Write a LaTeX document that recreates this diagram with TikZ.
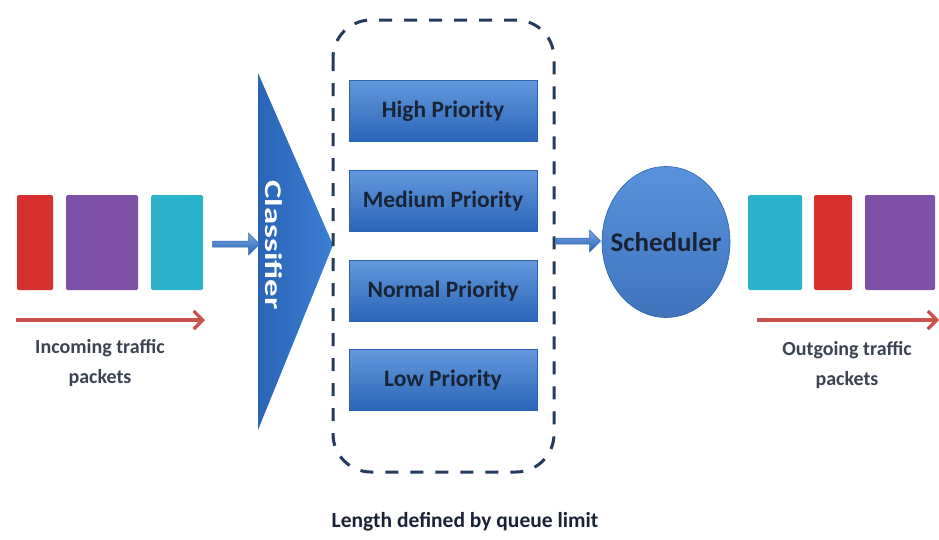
\documentclass[tikz,border=0pt]{standalone}
\usepackage{fontspec}
\setmainfont{Carlito}
\usetikzlibrary{shapes.arrows,shapes.geometric,arrows.meta}
\definecolor{qblue}{HTML}{3C7FD6}
\definecolor{qbluedark}{HTML}{2A64B5}
\definecolor{qtext}{HTML}{1A2235}
\definecolor{pred}{HTML}{D8302E}
\definecolor{ppurple}{HTML}{7E50A8}
\definecolor{pcyan}{HTML}{2CB3CB}
\definecolor{arrred}{HTML}{C9504C}
\definecolor{dashcol}{HTML}{243B5E}
\begin{document}
\begin{tikzpicture}[x=1pt,y=-1pt,
  pkt/.style={draw=none, minimum height=95pt, inner sep=0pt, rounded corners=1.5pt},
  prio/.style={draw=qbluedark, line width=0.6pt, top color=qblue!80!white, bottom color=qbluedark, minimum width=188pt, minimum height=61pt, inner sep=0pt, font=\fontsize{23.5}{26}\selectfont\bfseries, text=qtext},
  lbl/.style={font=\fontsize{20}{30}\selectfont\bfseries, text=qtext!85!white, align=center},
  blockarrow/.style={single arrow, draw=qbluedark, line width=0.5pt, top color=qblue!70!white, bottom color=qbluedark, minimum height=#1, single arrow head extend=6pt, single arrow tip angle=90, minimum width=22pt, inner sep=2pt},
  redarrow/.style={draw=arrred, line width=3.4pt, -{Straight Barb[length=9pt,width=18pt,line width=3.2pt]}}
]
\useasboundingbox (0,0) rectangle (939,539);
\fill[white] (0,0) rectangle (939,539);

% incoming packets
\node[pkt, fill=pred, minimum width=36pt] (in1) at (35,242.5) {};
\node[pkt, fill=ppurple, minimum width=72pt] (in2) at (102,242.5) {};
\node[pkt, fill=pcyan, minimum width=52pt] (in3) at (177,242.5) {};
\coordinate (inS) at (16,320);
\coordinate (inE) at (205,320);
\draw[redarrow] (inS) -- (inE);
\node[lbl] (inlbl) at (100,363) {Incoming traffic\\packets};

% classifier
\coordinate (c1) at (258,73);
\coordinate (c2) at (258,430);
\coordinate (ctip) at (333,245);
\shade[left color=qbluedark, right color=qblue] (c1) -- (ctip) -- (c2) -- cycle;
\node[rotate=-90, text=white] (cls) at (274,245) {\scalebox{1.45}[1]{\fontsize{24}{28}\selectfont\bfseries Classifier}};

\node[blockarrow=47pt] (a1) at (234.5,244) {};

% dashed queue box
\draw[dashcol, line width=3pt, dash pattern=on 13pt off 12pt, rounded corners=38pt] (333,20) rectangle (554,472);
\node (qbox) at (443.5,246) [minimum width=221pt, minimum height=452pt] {};

\node[prio] (high) at (443,111) {High Priority};
\node[prio] (med) at (443,201) {Medium Priority};
\node[prio] (norm) at (443,291) {Normal Priority};
\node[prio] (low) at (443,380) {Low Priority};

\node[font=\fontsize{21.5}{24}\selectfont\bfseries, text=qtext] (qlim) at (465,522) {Length defined by queue limit};

% scheduler
\node[blockarrow=44pt] (a2) at (577,241) {};
\node[ellipse, draw=qbluedark, line width=0.6pt, top color=qblue!85!white, bottom color=qbluedark!90!white, minimum width=128pt, minimum height=151pt, inner sep=0pt] (sch) at (666,242) {};
\node[font=\fontsize{27}{30}\selectfont\bfseries, text=qtext, inner sep=0pt] (schtxt) at (sch.center) {Scheduler};

% outgoing packets
\node[pkt, fill=pcyan, minimum width=54pt] (out1) at (775,242.5) {};
\node[pkt, fill=pred, minimum width=38pt] (out2) at (833,242.5) {};
\node[pkt, fill=ppurple, minimum width=70pt] (out3) at (900,242.5) {};
\coordinate (outS) at (757,320);
\coordinate (outE) at (939,320);
\draw[redarrow] (outS) -- (outE);
\node[lbl] (outlbl) at (847,365) {Outgoing traffic\\packets};
\end{tikzpicture}
\end{document}
